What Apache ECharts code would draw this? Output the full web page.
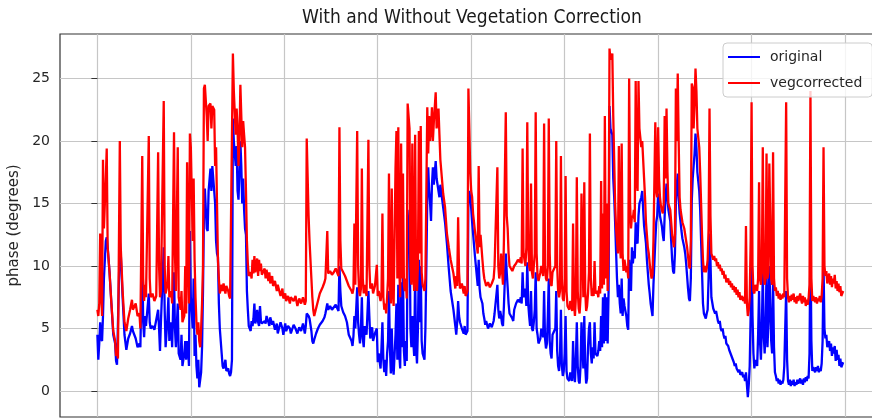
<!DOCTYPE html>
<html>
<head>
<meta charset="utf-8">
<title>With and Without Vegetation Correction</title>
<script src="https://cdn.jsdelivr.net/npm/echarts@6/dist/echarts.min.js"></script>
<style>
  html, body { margin: 0; padding: 0; background: #ffffff; }
  #chart { width: 872px; height: 418px; }
</style>
</head>
<body>
<div id="chart"></div>
<script>
// Sample position along the record (days from the first sample)
const sampleDay = [
  0,1,2,3,4,5,6,7,9,10,11,13,15,17,19,20,21,22,24,25,27,29,31,33,35,37,38,41,43,45,46,48,49,50,51,52,55,56,57,59,61,63,65,66,67,68,71,72,73,75,76,77,79,80,82,83,84,86,87,89,90,91,93,94,95,96,97,98,99,100,102,103,104,105,106,107,108,109,110,111,112,113,114,115,
  117,118,119,121,122,123,125,126,127,128,129,130,131,133,134,135,137,138,140,141,142,143,144,145,146,148,149,150,151,152,153,154,155,156,157,158,159,160,161,162,164,165,166,167,168,169,170,171,172,173,174,175,176,179,180,181,183,184,185,187,188,190,192,193,196,198,199,201,202,204,206,207,210,212,214,216,218,220,222,223,224,226,227,229,230,231,232,234,236,238,241,243,244,246,247,249,251,
  253,255,258,259,260,261,263,265,267,269,272,273,274,275,276,278,279,280,281,282,283,284,285,286,288,290,291,292,294,295,297,299,300,301,303,304,305,306,307,308,309,310,311,312,313,314,315,316,317,319,320,321,322,323,324,325,326,327,328,329,330,331,332,334,335,336,337,338,339,340,341,342,343,344,345,346,347,348,350,351,352,353,354,355,356,357,358,359,360,362,363,365,366,367,370,372,374,376,378,381,383,
  384,385,386,387,388,390,392,393,394,396,397,398,399,400,401,402,403,404,405,406,407,408,409,410,412,413,414,415,416,418,420,422,424,425,428,429,430,431,432,433,434,435,437,438,439,440,441,444,445,446,448,450,452,453,454,455,456,458,459,460,461,462,463,464,465,466,467,468,469,470,471,472,474,475,477,478,479,480,481,482,483,484,485,486,487,490,491,492,493,494,495,496,497,498,499,500,501,502,503,505,506,
  507,508,509,510,511,512,513,514,515,516,517,518,520,521,522,523,524,525,526,527,528,529,530,531,532,533,535,536,537,538,539,540,541,542,543,544,545,546,547,548,549,551,552,553,554,555,556,557,558,559,560,561,562,563,564,566,567,568,569,570,571,572,573,574,575,576,577,578,579,580,582,583,584,585,586,587,588,589,590,591,592,593,594,595,597,598,599,600,601,602,603,604,605,606,607,608,609,610,611,613,614,615,616,617,618,619,620,621,622,623,624,625,626,628,629,630,631,632,633,634,635,636,
  637,638,639,640,641,642,644,645,646,647,648,649,650,651,652,653,654,655,656,657,659,660,661,662,663,664,665,666,667,668,669,670,671,672,673,675,676,677,678,679,680,681,682,683,684,685,686,687,688,690,691,692,693,694,695,696,697,698,699,700,701,702,703,704,706,707,708,709,710,711,712,713,714,715,716,717,718,719,721,722,723,724,725,726,727,728,729,730,731,732,733,734,735,737,738,739,740,741,742,743,744,745,746,747,748,749,750,752,753,754,755,756,757,758,759,760,761,762,763,764,765,766,768,769,770,771,772,773,774,775,776,777,778,779,780,781,783,784,785,786,787,788,789,790,791,792,793,794,795,796,798
];

// Phase without vegetation correction (degrees)
const original = [
  4.5,2.5,3.8,5.5,4.2,4,6,9,12,12.3,11.5,9.5,7,4.5,3.8,2.4,2.1,2.0,12,11,7.5,4.5,3.3,4.2,4.6,5.2,4.8,4.2,3.5,3.8,3.5,11.5,5.5,4.3,6,5.2,7.8,5.5,5,5.2,4.9,5.0,6.5,5,3.2,5.5,11.5,6.5,3.5,5.8,7.5,4,5.5,3.5,9.5,5,3.5,7,3,2.5,4.5,2.0,3,4,2.5,4,3.5,2,12.8,7.5,5,9,2.8,4.5,2,1,2.5,0.3,0.2,1.5,3.5,8,14,16.2,
  13,12.8,16,17.8,16,18,16,15,12,11,10.7,7,5,3,2,1.8,2.5,1.6,1.8,1.4,1.2,1.5,2.5,21.8,20,18,19.6,16,15.3,17.5,20,18,15,17,14.5,13,12.5,8,6.5,5.2,4.8,5.6,5.2,5.8,7,5.4,5.8,6.5,5.5,5.2,6.8,5.6,5.4,5.6,5.4,6,5.5,5.2,5.9,5.3,5.6,4.9,5.4,4.6,5.5,5.0,4.5,5.4,4.8,5.2,5.0,4.6,5.3,5.0,4.6,5.1,4.8,5.4,4.6,5.2,6.2,6,5.8,4.8,4,3.8,4.1,4.6,5.0,5.3,5.6,5.9,6.2,7,6.5,6.8,6.5,
  6.6,6.9,6.4,10,8,6.8,6.3,6.0,5.5,4.5,4,3.6,4.4,6,5,8.3,5.5,4.5,3.8,5,7.5,4.2,3.5,5.2,4.5,8,6,4.2,5.1,4.0,4.6,5,2.3,3,1.8,3.5,5.5,2.5,1.5,2.5,1.2,3,4,8,3.5,1.4,5,2,1.3,4.5,7,2.5,8.5,3,1.8,8.7,3.5,9.5,3.2,2,4,2.4,12,14.5,5,3.5,6,4,2.8,9.5,3.5,2.2,5,10.5,5.5,10,4,3,2.5,5,10,15.5,17.9,16,15,13.6,16.5,17.9,16.5,18.4,17,17,15.5,16.5,14.7,13.5,11.8,9.8,8,6.5,5.2,
  4.5,5.5,7.2,6,5.5,5.0,4.6,5.2,4.5,4.8,15.5,16,15.4,14.6,13.5,12.6,11.7,10.8,10,9.2,8.4,10.5,8.2,7.5,7,6.2,5.8,5.3,5.6,5.0,5.4,5.1,5.6,6.2,8.5,6.5,5.8,6.4,6,5.4,5.2,6.8,11,9.5,8.3,7,6.2,5.8,5.6,6.5,7,7.3,7.1,7.5,7.0,9.5,7.5,8.2,6.8,10.3,7,6,5.2,8,5,4.8,5.5,6.5,9.5,5,4.5,3.8,4.2,5,4.3,8,4.2,3.4,3.8,6,9,4,3,2.6,4.5,5,8,3.2,2,1.6,2.8,6.5,2,1.2,1.6,3,6,1.6,1,0.8,1.5,
  1.2,0.8,4,1.5,0.7,2.5,5.5,2,0.8,0.6,2,5.5,1.8,6,2,0.6,1,3.5,5,5.5,3,2.2,3.5,2.6,5.5,3,2.8,3.2,4,3.2,6,3.5,7.5,3.8,7.8,4,7.5,3.8,8,22.8,21,20.5,17,15.5,13.5,11.2,9,7.5,8.5,7,6.2,9,6,7.4,6.8,6,5.2,4.9,10.5,9,8,11.5,10.2,11.2,10.6,13.5,12,11.8,14,15,15.5,16,14.5,13.2,12.5,11.8,10.5,9.5,8.5,7.8,7,6.5,6,8.5,12,13.5,14,15.8,15,14,13.6,13.2,12.5,12,14,15.5,16.6,15.5,14.5,13.6,12,10.5,9.6,9.4,11,15,16.5,17.4,15.5,14.2,13.5,12.8,12.2,11.5,11,10.2,9.2,8.2,7.4,7.2,9,15.2,
  17,18,19,20.6,19.5,17.5,16,14.5,12,9.5,7,6.2,6,5.8,6.2,6.5,9,12.6,10.5,7.5,6.6,6.5,6.2,6.4,6.0,5.6,5.4,5.6,5.0,4.8,5.0,4.5,4.2,4.4,3.8,3.6,3.3,3.4,2.9,2.7,2.5,2.3,2.0,2.2,1.8,1.9,1.5,1.7,1.3,1.5,1.1,1.3,0.8,1.5,0.5,-0.5,0.5,2,6,12,6,3,1.8,2.5,2,4.5,8,4,2.5,5,9.5,4.5,3,5,9.5,3.5,5.5,10,4,3,9,3.5,1.5,1.2,0.8,1.0,0.6,0.9,0.5,0.8,0.6,0.9,2,8,2.5,0.8,0.5,0.9,0.4,0.8,0.5,0.9,0.4,0.7,0.5,0.9,0.6,1.0,0.6,0.9,0.5,1.0,0.7,1.1,0.8,1.2,1.0,3,12.5,4,1.6,1.9,1.5,1.9,1.6,2.0,1.5,1.8,1.6,2.2,4,10,5,4.2,4.5,3.5,4,3.2,3.8,2.8,3.5,3.0,3.6,2.4,3.3,2.5,2.9,2.0,2.6,1.9,2.3
];

// Phase after vegetation correction (degrees)
const vegcorrected = [
  6.5,6.0,7.0,12.6,8,6,18.5,13,17,19.4,11.5,9.5,7,4.8,4,2.8,3.2,2.6,20,11.5,8,5.5,4.8,5.8,6.5,7.3,6.5,7.0,6.0,6.2,5.0,18.8,9,7.2,8.5,7.5,20.4,9,7.5,7.8,7.2,7.6,19.1,10,7.5,8,23.2,10,7.8,8.5,10.8,7.5,8,7,20.7,11,8,19.5,7.5,6.5,8,5.5,6,10,6.2,18.3,11,7,20.6,19.5,12,17,10.5,7.5,5.5,4.5,5.5,4,3.5,5,7,10,24.2,24.5,
  22,20,22.8,23,21,22.8,22.5,18,19.5,15,10.5,9,7.8,8.5,8,8.6,7.8,8.4,8,7.6,7.4,7.3,7.5,27,24,20.5,22.6,21,18,20,24.5,22,19.5,21.6,20.5,19.5,16,12,10.2,9.2,9.5,9,10.5,9.4,10.8,9.5,9.6,10.6,9.2,10.5,9.6,10.2,9.3,9.8,9.0,9.7,8.8,9.5,8.6,9.2,8.4,8.8,8,8.5,7.6,8.2,7.4,7.8,7.2,7.6,7.0,7.5,7.2,7.6,6.8,7.4,7.0,7.5,6.9,7.2,20.2,14,12,9,7.5,6.5,6,6.6,7.2,7.8,8.3,8.7,9,12.8,9.4,9.6,9.3,
  9.5,9.8,9.2,21.1,12,9.8,9.5,9.2,8.8,8.4,8,7.8,8.2,13.4,8.5,20.8,10,8,7.6,8.2,17.8,9,7.8,8.5,7.6,20.1,10,8.2,8.6,7.8,8.4,10.1,7.6,8,7.2,7.8,14.2,7.5,6.5,7,6.2,7.5,9,17.4,8.5,7,16.2,8,6.8,17.8,20.8,9,21.1,10,7.5,19.8,9,17.4,8.5,8,9,7.4,23,21,10,8.5,19.8,9.5,8,20.5,9,8,10,20.8,11,21.2,9.5,8.5,8,9,16,22.7,19,22,20,21,22.7,20,21.5,23.9,21,22.6,20.5,18.5,15.8,14.7,12.6,11.5,10.5,9.4,8.2,
  9.2,8.4,13.9,9.5,8.2,8.6,7.8,8.4,7.6,8,24.2,21,17.5,16,15.5,14.2,13.5,12.8,12.2,11.6,11,18,11.5,12.5,10.5,9.6,9,8.7,8.4,8.7,8.3,8.6,9,10,17.9,10,9,9.5,11,9.6,8.5,12,22.3,14,13,11,10,9.6,9.8,10,10.2,10.5,10.3,10.7,10.2,19.4,11,10,11.5,21.5,12,10,9.6,16.6,9.5,9,10,11,22.3,11,9.2,8.8,9.5,10,9.2,21.4,10,9,8.8,10,21.8,11,8.6,8.4,9.5,10,20,10,8,7.5,8,18.8,9,7.4,7.2,8.5,17.2,8,6.8,6.5,7.2,
  7,6.4,13.4,7,6,7.5,17.1,8,6.6,6.2,7.5,15.8,7.5,16.7,8,6.4,6.8,7.8,9.5,20.6,9,7.6,8.2,7.6,10.4,7.8,8,7.5,8.4,7.8,16.8,8.2,14.2,8.5,22,9,15,8,12,27.4,26.5,27,22,18.5,15,13,12,11,19.6,12,10.6,19.8,11,9.6,10.5,9.5,10,9,25,15,13,14,13.8,14.5,13.5,24.8,17,16,24.8,21,19.5,20,18.5,17,15.5,13.5,12.5,11.5,11,10.2,9.5,9,9.3,12,21.5,16,15.5,21.1,17,15.5,14.8,14.5,14.2,15,22,17,22.6,17.5,15,14.5,13.5,12.5,12,11.5,12.5,24.2,20,25.4,20,15.5,14.5,14,13.5,13,12.5,12,11.5,10.8,10,9.8,12,24.6,
  24.3,21,23,25.8,24,21,19.5,17.5,15,12.5,10.5,9.5,10,9.5,9.8,10.5,13,22.6,14,11,10.5,10.8,10.4,10.6,10,10.3,9.8,10.1,9.6,9.8,9.3,9.6,9,9.3,8.7,9,8.5,8.8,8.3,8.6,8.1,8.4,7.9,8.3,7.7,8.1,7.5,7.9,7.3,7.6,7.2,7.5,7.0,13.2,7,6,6.5,7.5,12,23.1,10,8,7.8,8.5,8,9,16.7,9,8.5,9.5,19.5,10,8.5,9,19,9,9.5,18.2,9,8.5,19.1,9,8,8.3,7.6,8,7.4,7.8,7.3,7.7,7.4,7.8,7.5,23.1,9,7.5,7.1,7.6,7.2,7.7,7.3,7.8,7.1,7.5,7.0,7.6,7.2,7.8,7.3,7.0,7.6,7.1,7.5,6.8,7.3,6.9,7.4,8.5,24,9,7.2,7.6,7.1,7.5,7.0,7.4,7.2,7.6,7.1,7.6,9,19.5,10,9.2,9.6,8.6,9.4,8.5,9.2,8.3,9,8.6,9.3,8.2,8.8,8.0,8.6,7.9,8.4,7.6,8
];

// Vertical and horizontal grid positions
const xGridAt = [0, 100, 200, 300, 400, 500, 600, 700, 800];
const yTicks = [0, 5, 10, 15, 20, 25];

const FONT = "'DejaVu Sans', 'Noto Sans', sans-serif";
const TEXT = '#262626';
const GRIDLINE = '#c6c6c6';

const chart = echarts.init(document.getElementById('chart'), null, { renderer: 'canvas' });

const toPairs = vals => sampleDay.map((d, i) => [d, vals[i]]);

chart.setOption({
  animation: false,
  backgroundColor: '#ffffff',
  title: {
    text: 'With and Without Vegetation Correction',
    left: 467,
    textAlign: 'center',
    top: 4,
    textStyle: {
      fontFamily: "'DejaVu Sans Condensed', 'Liberation Sans Narrow', 'DejaVu Sans', sans-serif",
      fontSize: 19,
      fontWeight: 'normal',
      color: '#1a1a1a'
    }
  },
  legend: {
    orient: 'vertical',
    left: 723,
    top: 43,
    padding: [6, 10, 6, 5],
    itemGap: 10,
    itemWidth: 32,
    itemHeight: 2,
    icon: 'rect',
    backgroundColor: 'rgba(255,255,255,0.8)',
    borderColor: '#cccccc',
    borderWidth: 1,
    borderRadius: 4,
    textStyle: {
      fontFamily: FONT,
      fontSize: 14,
      lineHeight: 16,
      color: TEXT,
      padding: [0, 0, 0, 5]
    },
    data: ['original', 'vegcorrected']
  },
  grid: {
    show: true,
    left: 60,
    right: -2,
    top: 34,
    bottom: 1,
    containLabel: false,
    outerBoundsMode: 'none',
    borderColor: '#333333',
    borderWidth: 1.2,
    backgroundColor: 'transparent'
  },
  xAxis: {
    type: 'value',
    min: -40,
    max: 831,
    axisLine: { show: false },
    axisTick: { show: false, customValues: xGridAt },
    axisLabel: { show: false, customValues: xGridAt },
    splitLine: { show: true, lineStyle: { color: GRIDLINE, width: 1.2 } }
  },
  yAxis: {
    type: 'value',
    min: -2.08,
    max: 28.56,
    name: 'phase (degrees)',
    nameLocation: 'middle',
    nameGap: 35,
    nameRotate: 90,
    nameTextStyle: { fontFamily: FONT, fontSize: 15, color: TEXT },
    axisLine: { show: false },
    axisTick: { show: true, length: 6, customValues: yTicks, lineStyle: { color: '#333333', width: 1 } },
    axisLabel: { customValues: yTicks, margin: 10, fontFamily: FONT, fontSize: 14, color: TEXT },
    splitLine: { show: true, lineStyle: { color: GRIDLINE, width: 1.2 } }
  },
  series: [
    {
      name: 'original',
      type: 'line',
      data: toPairs(original),
      showSymbol: false,
      symbol: 'none',
      sampling: null,
      color: '#0000ff',
      lineStyle: { color: '#0000ff', width: 2.3 },
      z: 2
    },
    {
      name: 'vegcorrected',
      type: 'line',
      data: toPairs(vegcorrected),
      showSymbol: false,
      symbol: 'none',
      sampling: null,
      color: '#ff0000',
      lineStyle: { color: '#ff0000', width: 2.3 },
      z: 3
    }
  ]
});
</script>
</body>
</html>
